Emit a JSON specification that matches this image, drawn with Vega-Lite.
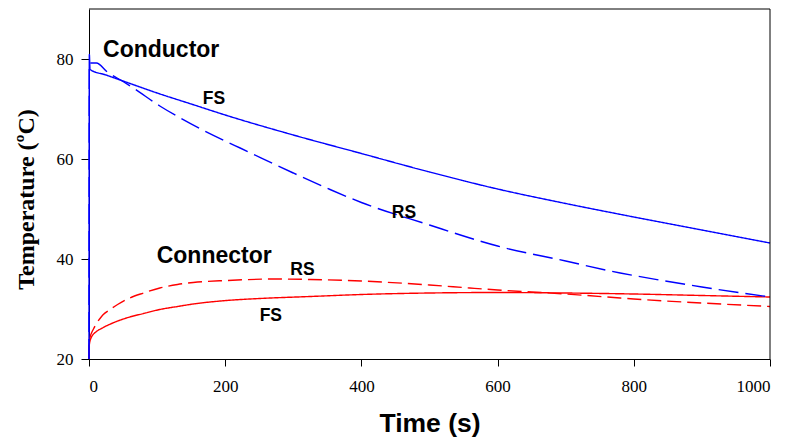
{
  "$schema": "https://vega.github.io/schema/vega-lite/v6.json",
  "width": 681,
  "height": 350,
  "autosize": "none",
  "padding": {"left": 89, "top": 9, "right": 22, "bottom": 88},
  "background": "white",
  "config": {
    "view": {"stroke": null},
    "axis": {
      "grid": false,
      "zindex": 0,
      "domainColor": "#000000",
      "tickColor": "#000000",
      "labelColor": "#000000",
      "titleColor": "#000000",
      "labelFont": "Liberation Serif",
      "labelFontSize": 17
    }
  },
  "datasets": {
    "curves": [
      {"t": 0, "T": 20, "series": "Connector FS", "part": "Connector"},
      {"t": 0.3, "T": 22.5, "series": "Connector FS", "part": "Connector"},
      {"t": 1, "T": 23.3, "series": "Connector FS", "part": "Connector"},
      {"t": 3, "T": 24.2, "series": "Connector FS", "part": "Connector"},
      {"t": 6, "T": 24.9, "series": "Connector FS", "part": "Connector"},
      {"t": 10, "T": 25.4, "series": "Connector FS", "part": "Connector"},
      {"t": 21, "T": 26.3, "series": "Connector FS", "part": "Connector"},
      {"t": 35, "T": 27.2, "series": "Connector FS", "part": "Connector"},
      {"t": 55, "T": 28.2, "series": "Connector FS", "part": "Connector"},
      {"t": 80, "T": 29.1, "series": "Connector FS", "part": "Connector"},
      {"t": 104, "T": 29.9, "series": "Connector FS", "part": "Connector"},
      {"t": 130, "T": 30.5, "series": "Connector FS", "part": "Connector"},
      {"t": 153, "T": 31.0, "series": "Connector FS", "part": "Connector"},
      {"t": 202, "T": 31.7, "series": "Connector FS", "part": "Connector"},
      {"t": 251, "T": 32.1, "series": "Connector FS", "part": "Connector"},
      {"t": 325, "T": 32.5, "series": "Connector FS", "part": "Connector"},
      {"t": 400, "T": 32.9, "series": "Connector FS", "part": "Connector"},
      {"t": 500, "T": 33.2, "series": "Connector FS", "part": "Connector"},
      {"t": 600, "T": 33.3, "series": "Connector FS", "part": "Connector"},
      {"t": 700, "T": 33.2, "series": "Connector FS", "part": "Connector"},
      {"t": 800, "T": 33.0, "series": "Connector FS", "part": "Connector"},
      {"t": 900, "T": 32.7, "series": "Connector FS", "part": "Connector"},
      {"t": 1000, "T": 32.4, "series": "Connector FS", "part": "Connector"},

      {"t": 0, "T": 20, "series": "Connector RS", "part": "Connector"},
      {"t": 0.3, "T": 23, "series": "Connector RS", "part": "Connector"},
      {"t": 1, "T": 24, "series": "Connector RS", "part": "Connector"},
      {"t": 2, "T": 24.6, "series": "Connector RS", "part": "Connector"},
      {"t": 4, "T": 25.3, "series": "Connector RS", "part": "Connector"},
      {"t": 7, "T": 26.1, "series": "Connector RS", "part": "Connector"},
      {"t": 10, "T": 26.9, "series": "Connector RS", "part": "Connector"},
      {"t": 15, "T": 27.9, "series": "Connector RS", "part": "Connector"},
      {"t": 21, "T": 28.9, "series": "Connector RS", "part": "Connector"},
      {"t": 31, "T": 29.9, "series": "Connector RS", "part": "Connector"},
      {"t": 42, "T": 30.9, "series": "Connector RS", "part": "Connector"},
      {"t": 55, "T": 31.9, "series": "Connector RS", "part": "Connector"},
      {"t": 80, "T": 33.2, "series": "Connector RS", "part": "Connector"},
      {"t": 104, "T": 34.2, "series": "Connector RS", "part": "Connector"},
      {"t": 130, "T": 34.9, "series": "Connector RS", "part": "Connector"},
      {"t": 153, "T": 35.3, "series": "Connector RS", "part": "Connector"},
      {"t": 202, "T": 35.7, "series": "Connector RS", "part": "Connector"},
      {"t": 276, "T": 36.0, "series": "Connector RS", "part": "Connector"},
      {"t": 325, "T": 35.9, "series": "Connector RS", "part": "Connector"},
      {"t": 400, "T": 35.6, "series": "Connector RS", "part": "Connector"},
      {"t": 500, "T": 34.8, "series": "Connector RS", "part": "Connector"},
      {"t": 559, "T": 34.2, "series": "Connector RS", "part": "Connector"},
      {"t": 600, "T": 33.8, "series": "Connector RS", "part": "Connector"},
      {"t": 700, "T": 33.0, "series": "Connector RS", "part": "Connector"},
      {"t": 780, "T": 32.2, "series": "Connector RS", "part": "Connector"},
      {"t": 800, "T": 32.0, "series": "Connector RS", "part": "Connector"},
      {"t": 900, "T": 31.2, "series": "Connector RS", "part": "Connector"},
      {"t": 1000, "T": 30.5, "series": "Connector RS", "part": "Connector"},

      {"t": 0, "T": 20, "series": "Conductor RS", "part": "Conductor"},
      {"t": 0.5, "T": 79.2, "series": "Conductor RS", "part": "Conductor"},
      {"t": 11, "T": 79.2, "series": "Conductor RS", "part": "Conductor"},
      {"t": 26, "T": 77.5, "series": "Conductor RS", "part": "Conductor"},
      {"t": 50, "T": 75.5, "series": "Conductor RS", "part": "Conductor"},
      {"t": 65, "T": 74.2, "series": "Conductor RS", "part": "Conductor"},
      {"t": 104, "T": 70.6, "series": "Conductor RS", "part": "Conductor"},
      {"t": 134, "T": 68.2, "series": "Conductor RS", "part": "Conductor"},
      {"t": 200, "T": 63.6, "series": "Conductor RS", "part": "Conductor"},
      {"t": 222, "T": 62.2, "series": "Conductor RS", "part": "Conductor"},
      {"t": 300, "T": 57.2, "series": "Conductor RS", "part": "Conductor"},
      {"t": 354, "T": 53.9, "series": "Conductor RS", "part": "Conductor"},
      {"t": 400, "T": 51.3, "series": "Conductor RS", "part": "Conductor"},
      {"t": 500, "T": 46.8, "series": "Conductor RS", "part": "Conductor"},
      {"t": 574, "T": 43.6, "series": "Conductor RS", "part": "Conductor"},
      {"t": 600, "T": 42.6, "series": "Conductor RS", "part": "Conductor"},
      {"t": 700, "T": 39.6, "series": "Conductor RS", "part": "Conductor"},
      {"t": 780, "T": 37.2, "series": "Conductor RS", "part": "Conductor"},
      {"t": 800, "T": 36.7, "series": "Conductor RS", "part": "Conductor"},
      {"t": 900, "T": 34.4, "series": "Conductor RS", "part": "Conductor"},
      {"t": 1000, "T": 32.4, "series": "Conductor RS", "part": "Conductor"},

      {"t": 0, "T": 20, "series": "Conductor FS", "part": "Conductor"},
      {"t": 0.5, "T": 80.9, "series": "Conductor FS", "part": "Conductor"},
      {"t": 1.5, "T": 77.9, "series": "Conductor FS", "part": "Conductor"},
      {"t": 25, "T": 76.8, "series": "Conductor FS", "part": "Conductor"},
      {"t": 50, "T": 75.6, "series": "Conductor FS", "part": "Conductor"},
      {"t": 100, "T": 73.2, "series": "Conductor FS", "part": "Conductor"},
      {"t": 150, "T": 71.0, "series": "Conductor FS", "part": "Conductor"},
      {"t": 200, "T": 68.8, "series": "Conductor FS", "part": "Conductor"},
      {"t": 300, "T": 64.8, "series": "Conductor FS", "part": "Conductor"},
      {"t": 400, "T": 61.1, "series": "Conductor FS", "part": "Conductor"},
      {"t": 500, "T": 57.4, "series": "Conductor FS", "part": "Conductor"},
      {"t": 600, "T": 54.0, "series": "Conductor FS", "part": "Conductor"},
      {"t": 700, "T": 51.1, "series": "Conductor FS", "part": "Conductor"},
      {"t": 800, "T": 48.4, "series": "Conductor FS", "part": "Conductor"},
      {"t": 900, "T": 45.8, "series": "Conductor FS", "part": "Conductor"},
      {"t": 1000, "T": 43.2, "series": "Conductor FS", "part": "Conductor"}
    ],
    "bigLabels": [
      {"t": 20.6, "T": 80.5, "label": "Conductor"},
      {"t": 99.4, "T": 39.3, "label": "Connector"}
    ],
    "smallLabels": [
      {"t": 183.5, "T": 71.0, "label": "FS"},
      {"t": 462.6, "T": 48.2, "label": "RS"},
      {"t": 313.5, "T": 36.9, "label": "RS"},
      {"t": 267, "T": 27.7, "label": "FS"}
    ],
    "frame": [{"t": 1000, "T": 90}]
  },
  "layer": [
    {
      "data": {"name": "curves"},
      "mark": {"type": "line", "interpolate": "monotone", "strokeWidth": 1.4, "clip": false},
      "encoding": {
        "x": {
          "field": "t", "type": "quantitative",
          "scale": {"domain": [0, 1000], "nice": false, "zero": false},
          "axis": {
            "values": [0, 200, 400, 600, 800, 1000],
            "format": "d",
            "labelFont": "Liberation Serif",
            "labelFontSize": 17,
            "title": "Time (s)",
            "titleFont": "Liberation Sans",
            "titleFontWeight": "bold",
            "titleFontSize": 26.5,
            "titleBaseline": "alphabetic",
            "titleY": 72.7,
            "tickSize": 7,
            "labelPadding": 12,
            "domainWidth": 1,
            "tickWidth": 1
          }
        },
        "y": {
          "field": "T", "type": "quantitative",
          "scale": {"domain": [20, 90], "nice": false, "zero": false},
          "axis": {
            "values": [20, 40, 60, 80],
            "format": "d",
            "labelFont": "Liberation Serif",
            "labelFontSize": 17,
            "title": "Temperature (ºC)",
            "titleFont": "Liberation Serif",
            "titleFontWeight": "bold",
            "titleFontSize": 24,
            "titleAngle": -90,
            "titleAlign": "center",
            "titleBaseline": "alphabetic",
            "titleX": -56,
            "titleY": 190,
            "tickSize": 8,
            "labelPadding": 8,
            "domainWidth": 1,
            "tickWidth": 1
          }
        },
        "detail": {"field": "series"},
        "color": {
          "field": "part", "type": "nominal",
          "scale": {"domain": ["Conductor", "Connector"], "range": ["#0000ff", "#ff0000"]},
          "legend": null
        },
        "strokeDash": {
          "field": "series", "type": "nominal",
          "scale": {
            "domain": ["Connector FS", "Connector RS", "Conductor RS", "Conductor FS"],
            "range": [[1, 0], [14, 6], [20, 7], [1, 0]]
          },
          "legend": null
        }
      }
    },
    {
      "data": {"name": "frame"},
      "mark": {"type": "rule", "color": "#000000", "strokeWidth": 1},
      "encoding": {
        "x": {"field": "t", "type": "quantitative"}
      }
    },
    {
      "data": {"name": "frame"},
      "mark": {"type": "rule", "color": "#000000", "strokeWidth": 1},
      "encoding": {
        "y": {"field": "T", "type": "quantitative"}
      }
    },
    {
      "data": {"name": "bigLabels"},
      "mark": {"type": "text", "font": "Liberation Sans", "fontWeight": "bold", "fontSize": 23, "align": "left", "baseline": "alphabetic", "color": "#000000"},
      "encoding": {
        "x": {"field": "t", "type": "quantitative"},
        "y": {"field": "T", "type": "quantitative"},
        "text": {"field": "label"}
      }
    },
    {
      "data": {"name": "smallLabels"},
      "mark": {"type": "text", "font": "Liberation Sans", "fontWeight": "bold", "fontSize": 17.5, "align": "center", "baseline": "alphabetic", "color": "#000000"},
      "encoding": {
        "x": {"field": "t", "type": "quantitative"},
        "y": {"field": "T", "type": "quantitative"},
        "text": {"field": "label"}
      }
    }
  ]
}
